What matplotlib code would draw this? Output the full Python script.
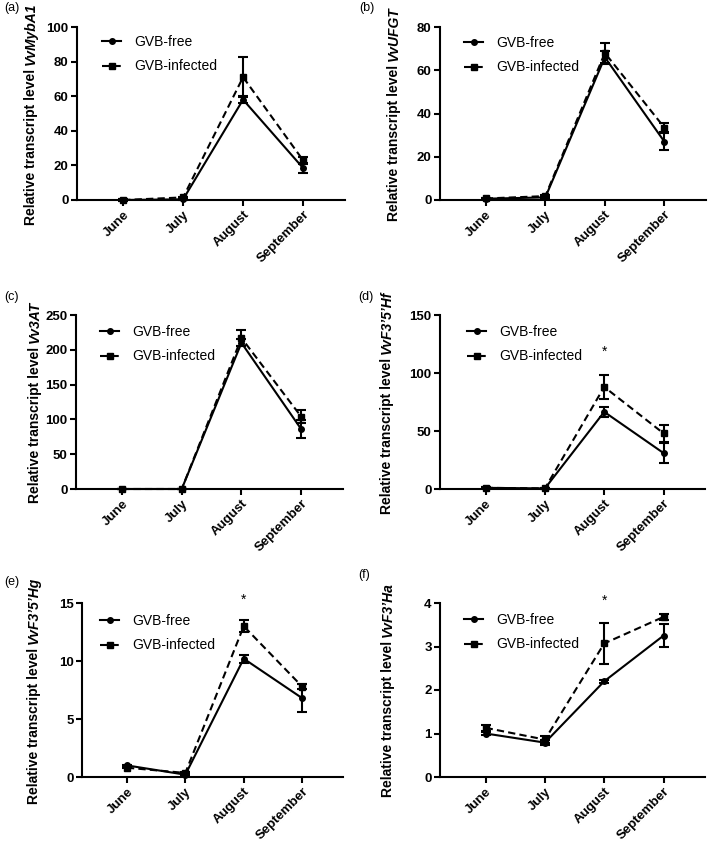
import numpy as np
import matplotlib
matplotlib.use("Agg")
import matplotlib.pyplot as plt

plt.rcParams['font.family'] = ['Liberation Sans', 'DejaVu Sans']

months = ["June", "July", "August", "September"]

# (a) VvMybA1
a_free = [0.0, 0.4, 58.0, 18.5]
a_free_err = [0.3, 0.3, 2.0, 3.0]
a_inf = [0.0, 1.5, 71.0, 23.0]
a_inf_err = [0.3, 0.5, 11.5, 2.0]

# (b) VvUFGT
b_free = [0.6, 1.2, 66.0, 27.0]
b_free_err = [0.3, 0.4, 3.0, 3.8]
b_inf = [0.7, 1.8, 68.0, 33.5]
b_inf_err = [0.3, 0.5, 4.5, 2.0]

# (c) Vv3AT
c_free = [0.0, 0.0, 210.0, 86.0]
c_free_err = [0.5, 0.5, 5.0, 13.0]
c_inf = [0.0, 0.0, 217.0, 104.0]
c_inf_err = [0.5, 0.5, 12.0, 9.5]

# (d) VvF3'5'Hf
d_free = [1.0, 0.5, 66.5, 31.0]
d_free_err = [0.4, 0.3, 4.3, 9.0]
d_inf = [1.0, 0.5, 88.0, 48.0]
d_inf_err = [0.4, 0.3, 10.0, 7.5]

# (e) VvF3'5'Hg
e_free = [1.0, 0.2, 10.2, 6.8]
e_free_err = [0.05, 0.05, 0.35, 1.2]
e_inf = [0.8, 0.35, 13.0, 7.8]
e_inf_err = [0.05, 0.05, 0.5, 0.2]

# (f) VvF3'Ha
f_free = [1.0, 0.79, 2.2, 3.25]
f_free_err = [0.03, 0.06, 0.03, 0.26]
f_inf = [1.13, 0.86, 3.07, 3.68]
f_inf_err = [0.07, 0.08, 0.47, 0.06]

panels = [
    ("(a)", "VvMybA1", a_free, a_free_err, a_inf, a_inf_err, [0, 20, 40, 60, 80, 100], None),
    ("(b)", "VvUFGT", b_free, b_free_err, b_inf, b_inf_err, [0, 20, 40, 60, 80], None),
    ("(c)", "Vv3AT", c_free, c_free_err, c_inf, c_inf_err, [0, 50, 100, 150, 200, 250], None),
    ("(d)", "VvF3\u20195\u2019Hf", d_free, d_free_err, d_inf, d_inf_err, [0, 50, 100, 150], 118),
    ("(e)", "VvF3\u20195\u2019Hg", e_free, e_free_err, e_inf, e_inf_err, [0, 5, 10, 15], 15.3),
    ("(f)", "VvF3\u2019Ha", f_free, f_free_err, f_inf, f_inf_err, [0, 1, 2, 3, 4], 4.04),
]

W, H = 709, 844
fig = plt.figure(figsize=(W / 100, H / 100), dpi=100)

# axes boxes in pixels: left, right, top, bottom
boxes = [(77, 345, 27, 200), (440, 706, 27, 200),
         (76, 343, 315, 489), (440, 705, 315, 489),
         (82, 343, 603, 777), (440, 705, 603, 777)]
label_x = [31, 394, 35, 387, 34, 388]
letter_pos = [(4, 8), (359, 8), (4, 297), (358, 297), (4, 582), (358, 575)]
leg_pos = [(25, 16), (24, 17), (24, 18), (27, 18), (18, 19), (24, 18)]

x = np.arange(len(months))
axes = []
for i, (letter, gene, fr, fre, inf, infe, yt, star) in enumerate(panels):
    l, r, t, b = boxes[i]
    ax = fig.add_axes([l / W, 1 - b / H, (r - l) / W, (b - t) / H])
    axes.append(ax)
    ax.errorbar(x, fr, yerr=fre, color='black', lw=1.5, marker='o', ms=4,
                capsize=3.5, capthick=1.5, elinewidth=1.5, label='GVB-free',
                clip_on=False, zorder=3)
    ax.errorbar(x, inf, yerr=infe, color='black', lw=1.5, ls=(0, (3.5, 2)),
                marker='s', ms=4, capsize=3.5, capthick=1.5, elinewidth=1.5,
                label='GVB-infected', clip_on=False, zorder=3)
    ax.set_xlim(-0.77, 3.7)
    ax.set_ylim(0, yt[-1])
    ax.set_yticks(yt)
    ax.set_xticks(x)
    ax.set_xticklabels(months, rotation=45, ha='right', rotation_mode='anchor')
    for s in ['top', 'right']:
        ax.spines[s].set_visible(False)
    for s in ['left', 'bottom']:
        ax.spines[s].set_linewidth(1.5)
    ax.tick_params(width=1.5, length=4, labelsize=9.5, pad=2)
    for lab in ax.get_xticklabels() + ax.get_yticklabels():
        lab.set_fontweight('bold')
    if star is not None:
        ax.text(2, star, "*", ha='center', va='center', fontsize=10, clip_on=False)

    lx, ly = leg_pos[i]
    h, lb = ax.get_legend_handles_labels()
    h = [hh[0] for hh in h]
    ax.legend(h, lb, loc='upper left', frameon=False, fontsize=10,
              bbox_to_anchor=(lx / (r - l), 1 - (ly - 8) / (b - t)),
              borderpad=0, borderaxespad=0, handlelength=1.4,
              handletextpad=0.9, labelspacing=0.75)

    fig.text(letter_pos[i][0] / W, 1 - letter_pos[i][1] / H, letter,
             fontsize=9, va='center', ha='left')

# two-part y labels (plain + italic gene name), centred on the axes
fig.canvas.draw()
rend = fig.canvas.get_renderer()
for i, ax in enumerate(axes):
    l, r, t, b = boxes[i]
    gene = panels[i][1]
    t1 = fig.text(label_x[i] / W, 0.5, "Relative transcript level ", rotation=90,
                  ha='center', va='bottom', fontsize=10, fontweight='bold')
    t2 = fig.text(label_x[i] / W, 0.5, gene, rotation=90, ha='center',
                  va='bottom', fontsize=10, fontweight='bold', style='italic')
    h1 = t1.get_window_extent(rend).height
    h2 = t2.get_window_extent(rend).height
    yc = H - (t + b) / 2
    y0 = yc - (h1 + h2) / 2
    t1.set_position((label_x[i] / W, y0 / H))
    t2.set_position((label_x[i] / W, (y0 + h1) / H))

fig.savefig("out.png", dpi=100)
